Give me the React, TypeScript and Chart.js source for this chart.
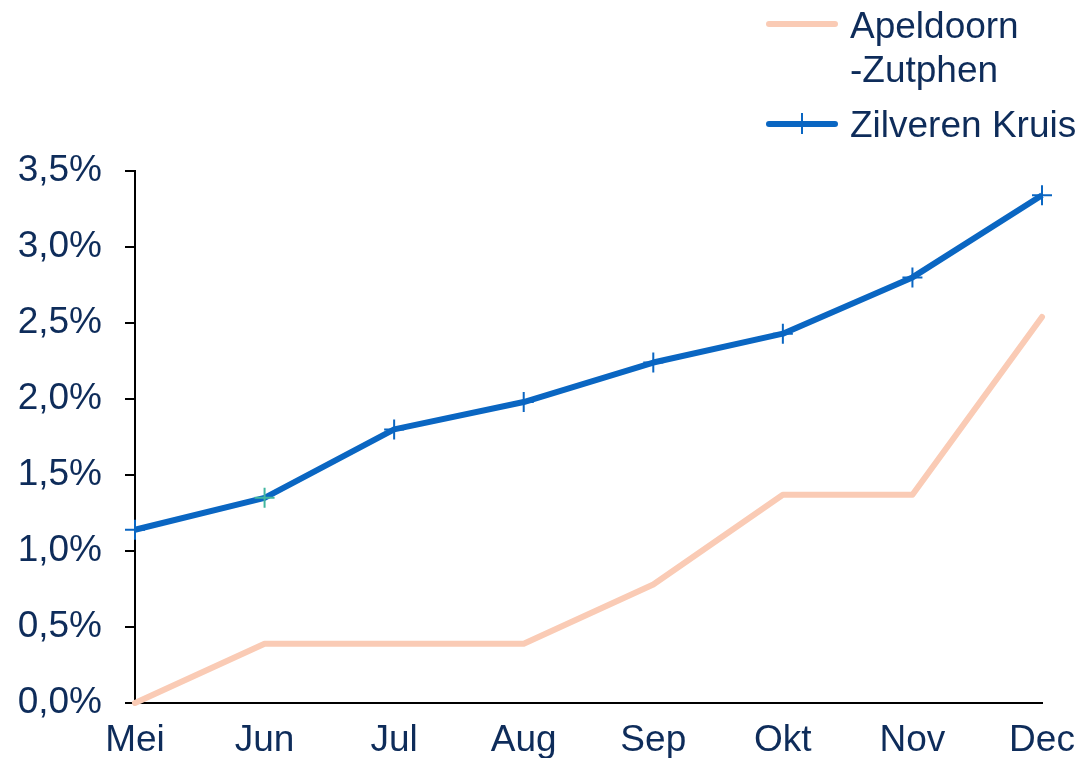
import React, { useEffect, useRef } from "react";
import { Chart, registerables } from "chart.js";

Chart.register(...registerables);

const months = ["Mei", "Jun", "Jul", "Aug", "Sep", "Okt", "Nov", "Dec"];
const apeldoornZutphen = [0, 0.39, 0.39, 0.39, 0.78, 1.37, 1.37, 2.54];
const zilverenKruis = [1.14, 1.35, 1.8, 1.98, 2.24, 2.43, 2.8, 3.34];
const yTicks = [0, 0.5, 1, 1.5, 2, 2.5, 3, 3.5];

const FONT = '"Liberation Sans", Arial, sans-serif';
const TEXT = "#0E2C5A";
const BLUE = "#0A66C2";
const PEACH = "#FACBB5";
const markerColors = [BLUE, "#41B6A0", BLUE, BLUE, BLUE, BLUE, BLUE, BLUE];

export default function App() {
  const ref = useRef<HTMLCanvasElement | null>(null);

  useEffect(() => {
    if (!ref.current) return;
    const chart = new Chart(ref.current, {
      type: "line",
      data: {
        labels: months,
        datasets: [
          {
            label: "Apeldoorn -Zutphen",
            data: apeldoornZutphen,
            borderColor: PEACH,
            borderWidth: 6,
            pointRadius: 0,
            borderCapStyle: "round",
            borderJoinStyle: "round",
            tension: 0,
            clip: false,
          } as any,
          {
            label: "Zilveren Kruis",
            data: zilverenKruis,
            borderColor: BLUE,
            borderWidth: 6,
            pointStyle: "cross",
            pointRadius: 10,
            pointBorderWidth: 2,
            pointBorderColor: markerColors,
            pointBackgroundColor: markerColors,
            borderJoinStyle: "round",
            tension: 0,
            clip: false,
          } as any,
        ],
      },
      options: {
        animation: false,
        responsive: false,
        maintainAspectRatio: false,
        layout: { padding: { top: 171, right: 39, bottom: 0, left: 0 } },
        plugins: { legend: { display: false }, tooltip: { enabled: false } },
        scales: {
          x: {
            offset: false,
            grid: { drawOnChartArea: false, drawTicks: false },
            border: { display: true, color: "#000", width: 2 },
            ticks: {
              color: TEXT,
              font: { family: FONT, size: 37 },
              padding: 16,
              maxRotation: 0,
              autoSkip: false,
            },
            afterFit: (s: any) => {
              s.height = 55;
              s.paddingLeft = 0;
              s.paddingRight = 0;
            },
          },
          y: {
            min: 0,
            max: 3.5,
            afterBuildTicks: (s: any) => {
              s.ticks = yTicks.map((v) => ({ value: v }));
            },
            grid: {
              drawOnChartArea: false,
              drawTicks: true,
              tickLength: 10,
              color: "#000",
              lineWidth: 2,
            },
            border: { display: true, color: "#000", width: 2 },
            ticks: {
              color: TEXT,
              font: { family: FONT, size: 37 },
              padding: 23,
              callback: (v: any) => Number(v).toFixed(1).replace(".", ",") + "%",
            },
            afterFit: (s: any) => {
              s.width = 135;
            },
          },
        },
      },
    });
    return () => chart.destroy();
  }, []);

  const legendText: React.CSSProperties = {
    position: "absolute",
    left: 850,
    fontFamily: FONT,
    fontSize: 37,
    lineHeight: "44px",
    color: TEXT,
    whiteSpace: "nowrap",
  };

  return (
    <div style={{ position: "absolute", left: 0, top: 0, width: 1081, height: 758, background: "#fff" }}>
      <canvas ref={ref} width={1081} height={758} style={{ position: "absolute", left: 0, top: 0 }} />
      <div style={{ position: "absolute", left: 766, top: 21, width: 72, height: 6, borderRadius: 3, background: PEACH }} />
      <div style={{ ...legendText, top: 4 }}>
        Apeldoorn
        <br />
        -Zutphen
      </div>
      <div style={{ position: "absolute", left: 766, top: 121, width: 72, height: 6, borderRadius: 3, background: BLUE }} />
      <div style={{ position: "absolute", left: 801, top: 113, width: 2, height: 21, background: BLUE }} />
      <div style={{ ...legendText, top: 103 }}>Zilveren Kruis</div>
    </div>
  );
}
